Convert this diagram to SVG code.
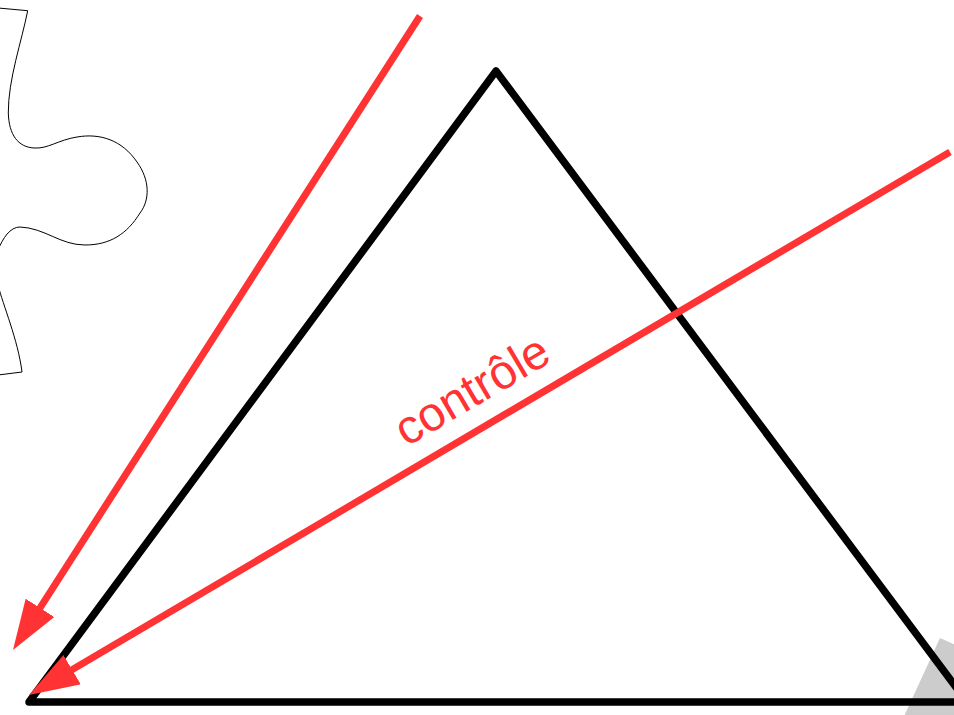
<svg xmlns="http://www.w3.org/2000/svg" width="954" height="715" viewBox="0 0 954 715">
  <style>
    .red { stroke: #ff3333; stroke-width: 7; fill: none; }
    .label { fill: #ff3333; font-family: "Liberation Sans", Arial, sans-serif; font-size: 48px; }
  </style>
  <defs>
    <marker id="head" markerUnits="userSpaceOnUse" viewBox="0 0 50 34" markerWidth="50" markerHeight="34" refX="10" refY="17" orient="auto">
      <path d="M0,0 L50,17 L0,34 z" fill="#ff3333"/>
    </marker>
  </defs>
  <rect width="954" height="715" fill="#ffffff"/>
  <g id="shadow">
    <polygon points="940,638 1050,688 1010,775 900,725" fill="#cccccc"/>
  </g>
  <g id="puzzle">
    <path d="M -2 8 L 27.7 10.7 C 22 40, 8 80, 8.3 113 C 9 135, 18 147, 34 148 C 48 149, 58 140, 77 137 C 100 133, 122 140, 137 162 C 150 180, 150 200, 140 213 C 127 234, 110 245, 85 245 C 60 245, 45 228, 20 227 C 10 227, 3 238, -2 250 L -2 285 C 3 305, 18 340, 22 372 L -2 375" fill="none" stroke="#000000" stroke-width="1"/>
  </g>
  <g id="triangle">
    <polygon points="496,71 967,702 29,702" fill="none" stroke="#000000" stroke-width="7.5" stroke-linejoin="round"/>
  </g>
  <g id="connectors">
    <line class="red" x1="420" y1="16" x2="34.6" y2="616.3" marker-end="url(#head)"/>
    <line class="red" x1="950" y1="152" x2="63.5" y2="674.7" marker-end="url(#head)"/>
    <text class="label" text-anchor="middle" transform="translate(480,404) rotate(-30.5)">contrôle</text>
  </g>
</svg>
